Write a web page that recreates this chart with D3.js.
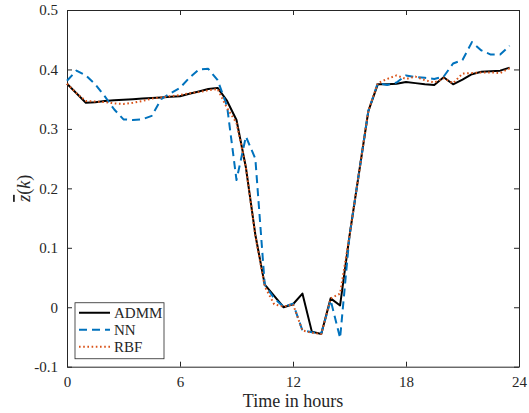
<!DOCTYPE html>
<html>
<head>
<meta charset="utf-8">
<script src="https://cdn.jsdelivr.net/npm/d3@7"></script>
<style>
  body { margin: 0; background: #fff; }
  svg text { font-family: "Liberation Serif", "Times New Roman", Tinos, "DejaVu Serif", "Noto Serif", serif !important; fill: #262626; }
</style>
</head>
<body>
<svg id="chart" width="529" height="413"></svg>
<script>
// time in hours, half-hour steps
const hours = d3.range(0, 24, 0.5);

const admm = [0.376, 0.360, 0.344, 0.345, 0.347, 0.348, 0.349, 0.350, 0.351, 0.352,
  0.353, 0.354, 0.355, 0.359, 0.363, 0.367, 0.369, 0.347, 0.315, 0.235,
  0.122, 0.038, 0.019, 0.000, 0.005, 0.023, -0.041, -0.045, 0.015, 0.003,
  0.120, 0.225, 0.330, 0.375, 0.375, 0.376, 0.379, 0.377, 0.375, 0.374,
  0.387, 0.375, 0.383, 0.392, 0.396, 0.397, 0.398, 0.403];

const nn = [0.381, 0.398, 0.390, 0.375, 0.355, 0.333, 0.316, 0.315, 0.316, 0.322,
  0.350, 0.360, 0.369, 0.386, 0.400, 0.401, 0.382, 0.338, 0.214, 0.287,
  0.250, 0.038, 0.015, 0.001, 0.006, -0.039, -0.042, -0.044, 0.012, -0.052,
  0.120, 0.225, 0.330, 0.377, 0.374, 0.378, 0.390, 0.387, 0.386, 0.384,
  0.388, 0.410, 0.416, 0.446, 0.432, 0.425, 0.425, 0.440];

const rbf = [0.376, 0.360, 0.347, 0.346, 0.345, 0.343, 0.342, 0.344, 0.347, 0.351,
  0.353, 0.355, 0.357, 0.360, 0.362, 0.365, 0.367, 0.335, 0.310, 0.235,
  0.120, 0.035, 0.005, 0.001, 0.005, -0.039, -0.043, -0.045, 0.015, 0.023,
  0.120, 0.225, 0.330, 0.377, 0.384, 0.390, 0.384, 0.388, 0.382, 0.378,
  0.385, 0.377, 0.393, 0.394, 0.395, 0.395, 0.394, 0.402];

const xTicks = [0, 6, 12, 18, 24];
const yTicks = [-0.1, 0, 0.1, 0.2, 0.3, 0.4, 0.5];

const series = [
  { name: "ADMM", values: admm, color: "#000000", dash: null, width: 2 },
  { name: "NN", values: nn, color: "#0072BD", dash: "8,5", width: 2 },
  { name: "RBF", values: rbf, color: "#D95319", dash: "1.6,2.6", width: 2 }
];

const margin = { left: 67, right: 10, top: 10, bottom: 46 };
const width = 529 - margin.left - margin.right,
  height = 413 - margin.top - margin.bottom - 0.3;

const svg = d3.select("#chart");
const g = svg.append("g").attr("transform", `translate(${margin.left},${margin.top})`);

const x = d3.scaleLinear().domain([0, 24]).range([0, width]);
const y = d3.scaleLinear().domain([-0.1, 0.5]).range([height, 0]);

const tickFmt = d => d === 0 ? "0" : d3.format(".1f")(d).replace("\u2212", "-");

// axes with inward ticks on all four sides
function styleAxis(sel) {
  sel.attr("font-family", null);
  sel.select(".domain").attr("stroke", "#262626").attr("stroke-width", 1);
  sel.selectAll(".tick line").attr("stroke", "#262626");
  sel.selectAll("text").attr("font-size", 15).attr("fill", "#262626");
}

g.append("g").attr("transform", `translate(0,${height})`)
  .call(d3.axisBottom(x).tickValues(xTicks).tickSizeInner(-5).tickSizeOuter(0).tickPadding(10))
  .call(styleAxis);
g.append("g")
  .call(d3.axisLeft(y).tickValues(yTicks).tickFormat(tickFmt).tickSizeInner(-5).tickSizeOuter(0).tickPadding(9))
  .call(styleAxis);
g.append("g")
  .call(d3.axisTop(x).tickValues(xTicks).tickFormat("").tickSizeInner(-5).tickSizeOuter(0))
  .call(styleAxis);
g.append("g").attr("transform", `translate(${width},0)`)
  .call(d3.axisRight(y).tickValues(yTicks).tickFormat("").tickSizeInner(-5).tickSizeOuter(0))
  .call(styleAxis);

const line = d3.line().x((d, i) => x(hours[i])).y(d => y(d));

g.selectAll(".series")
  .data(series)
  .join("path")
  .attr("class", "series")
  .attr("fill", "none")
  .attr("stroke", d => d.color)
  .attr("stroke-width", d => d.width)
  .attr("stroke-dasharray", d => d.dash)
  .attr("stroke-linejoin", "round")
  .attr("d", d => line(d.values));

// axis labels
svg.append("text")
  .attr("x", margin.left + width / 2)
  .attr("y", 407)
  .attr("text-anchor", "middle")
  .attr("font-size", 18)
  .text("Time in hours");

const yl = svg.append("text")
  .attr("transform", `translate(30,${margin.top + height / 2}) rotate(-90)`)
  .attr("text-anchor", "middle")
  .attr("font-size", 18);
yl.append("tspan").attr("font-style", "italic").style("text-decoration", "overline").text("z");
yl.append("tspan").text("(");
yl.append("tspan").attr("font-style", "italic").text("k");
yl.append("tspan").text(")");

// legend
const leg = g.append("g").attr("transform", `translate(8,${y(0) - 4.5})`);
leg.append("rect")
  .attr("width", 89).attr("height", 56)
  .attr("fill", "#fff").attr("stroke", "#262626").attr("stroke-width", 0.8);
const item = leg.selectAll(".item")
  .data(series)
  .join("g")
  .attr("class", "item")
  .attr("transform", (d, i) => `translate(0,${10 + i * 17})`);
item.append("line")
  .attr("x1", 4).attr("x2", 35)
  .attr("stroke", d => d.color)
  .attr("stroke-width", d => d.width)
  .attr("stroke-dasharray", d => d.dash);
item.append("text")
  .attr("x", 39).attr("y", 5)
  .attr("font-size", 15)
  .text(d => d.name);
</script>
</body>
</html>
